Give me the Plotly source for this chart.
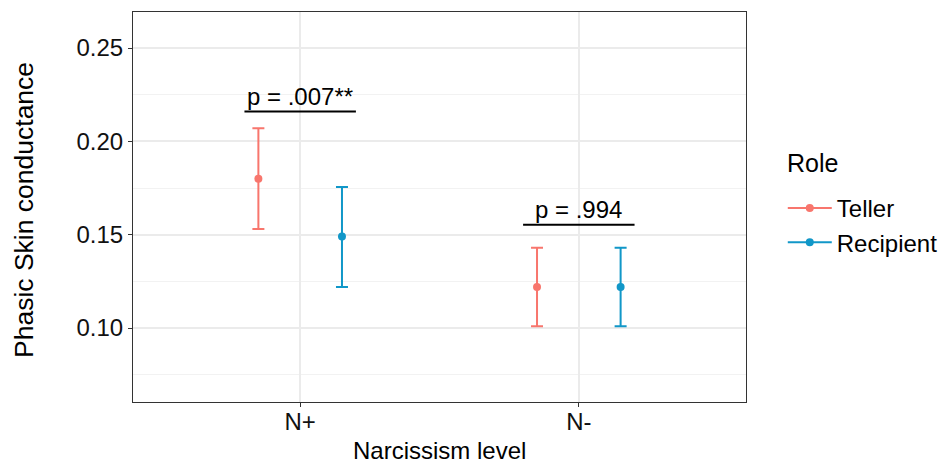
import plotly.graph_objects as go

levels = ["N+", "N-"]
roles = ["Teller", "Recipient"]
colors = {"Teller": "#F8766D", "Recipient": "#1197C8"}

teller_mean = [0.180, 0.122]
teller_lo = [0.153, 0.101]
teller_hi = [0.207, 0.143]
recip_mean = [0.149, 0.122]
recip_lo = [0.122, 0.101]
recip_hi = [0.1755, 0.143]

p_labels = ["p = .007**", "p = .994"]
bracket_y = [0.216, 0.1553]

y_ticks = [0.10, 0.15, 0.20, 0.25]

dodge = {"Teller": -0.15, "Recipient": 0.15}
series = {
    "Teller": (teller_mean, teller_lo, teller_hi),
    "Recipient": (recip_mean, recip_lo, recip_hi),
}

FONT = "Liberation Sans, Arial, sans-serif"
fig = go.Figure()

for role in roles:
    m, lo, hi = series[role]
    xs = [i + 1 + dodge[role] for i in range(len(levels))]
    fig.add_trace(go.Scatter(
        x=xs, y=m, mode="markers", showlegend=False,
        marker=dict(color=colors[role], size=8),
        error_y=dict(type="data", symmetric=False,
                     array=[h - v for h, v in zip(hi, m)],
                     arrayminus=[v - l for l, v in zip(lo, m)],
                     color=colors[role], thickness=2, width=6),
    ))
    # legend entry (line + point, as in ggplot)
    fig.add_trace(go.Scatter(
        x=[None], y=[None], mode="lines+markers", name=role,
        line=dict(color=colors[role], width=2),
        marker=dict(color=colors[role], size=8),
    ))

for i, (lab, by) in enumerate(zip(p_labels, bracket_y)):
    c = i + 1
    fig.add_shape(type="line", xref="x", yref="y", x0=c - 0.2, x1=c + 0.2,
                  y0=by, y1=by, line=dict(color="black", width=2))
    fig.add_annotation(x=c, y=by, xref="x", yref="y", text=lab,
                       showarrow=False, yanchor="bottom", yshift=0,
                       font=dict(size=24, color="black", family=FONT))

# axis titles and legend title
fig.add_annotation(x=0.5, y=0, xref="paper", yref="paper",
                   text="Narcissism level", showarrow=False,
                   yanchor="top", yshift=-33,
                   font=dict(size=24, color="black", family=FONT))
fig.add_annotation(x=0, y=0.5, xref="paper", yref="paper",
                   text="Phasic Skin conductance", showarrow=False,
                   textangle=-90, xanchor="center", xshift=-109,
                   yshift=-3,
                   font=dict(size=26.5, color="black", family=FONT))
fig.add_annotation(x=1.0636, y=0.6128, xref="paper", yref="paper",
                   text="Role", showarrow=False, xanchor="left",
                   yanchor="middle",
                   font=dict(size=25, color="black", family=FONT))

fig.update_layout(
    width=940, height=464,
    margin=dict(l=133, r=194, t=12, b=62, autoexpand=False),
    paper_bgcolor="white", plot_bgcolor="white",
    font=dict(family=FONT, color="black", size=24),
    legend=dict(font=dict(size=24), x=1.06, xanchor="left",
                y=0.4526, yanchor="middle", itemwidth=44,
                bgcolor="rgba(0,0,0,0)"),
)

fig.update_xaxes(
    range=[0.4, 2.6], tickvals=[i + 1 for i in range(len(levels))],
    ticktext=levels, showgrid=True, gridcolor="#EBEBEB", gridwidth=1.5,
    zeroline=False, showline=True, linecolor="#333333", linewidth=1.2,
    mirror=True, ticks="outside", ticklen=4, tickcolor="#333333",
    tickwidth=1.2, automargin=False, ticklabelstandoff=-6,
    tickfont=dict(size=24, color="#111111"),
)
fig.update_yaxes(
    range=[0.0604, 0.2693], tickvals=y_ticks,
    ticktext=[f"{v:.2f}" for v in y_ticks],
    showgrid=True, gridcolor="#EBEBEB", gridwidth=1.5,
    minor=dict(tickvals=[0.075, 0.125, 0.175, 0.225], showgrid=True,
               gridcolor="#F2F2F2", gridwidth=1),
    zeroline=False, showline=True, linecolor="#333333", linewidth=1.2,
    mirror=True, ticks="outside", ticklen=4, tickcolor="#333333",
    tickwidth=1.2, automargin=False,
    tickfont=dict(size=24, color="#111111"),
)

fig.write_html("out.html")
